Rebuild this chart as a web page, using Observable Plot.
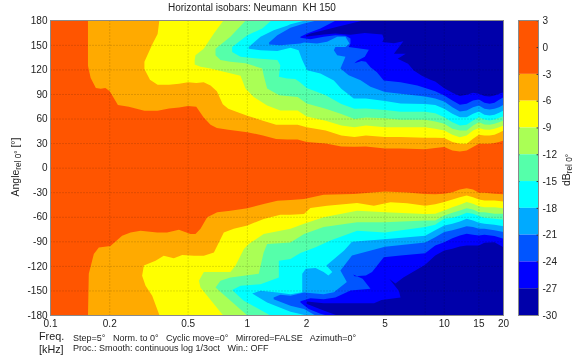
<!DOCTYPE html>
<html>
<head>
<meta charset="utf-8">
<script src="https://cdn.jsdelivr.net/npm/d3@7"></script>
<script src="https://cdn.jsdelivr.net/npm/@observablehq/plot@0.6"></script>
<style>
html,body{margin:0;padding:0;background:#fff;}
#page{position:relative;width:580px;height:357px;overflow:hidden;font-family:"Liberation Sans",sans-serif;color:#222;filter:blur(0.3px);}
#page svg{position:absolute;left:0;top:0;background:transparent;}
.t{position:absolute;white-space:pre;line-height:1;}
.t sub{font-size:.78em;vertical-align:-0.28em;line-height:0;}
</style>
</head>
<body>
<div id="page"></div>
<script>
const levels = [3,0,-3,-6,-9,-12,-15,-18,-21,-24,-27,-30];
const bandTops = [3,-3,-6,-9,-12,-15,-18,-21,-24,-27];
const bandColors = ["#FF5500","#FFAA00","#FFFF00","#AAFF55","#55FFAA","#00FFFF","#00AAFF","#0055FF","#0000FF","#0000AA"];
const freqTicks = [0.1,0.2,0.5,1,2,5,8,10,15,20];
const angleTicks = [-180,-150,-120,-90,-60,-30,0,30,60,90,120,150,180];

const top3 = [[.155,180],[.155,125],[.16,110],[.17,98],[.18,97],[.19,98],[.2,94],[.22,77],[.25,75],[.28,72],[.3,70],[.35,70],[.4,73],[.45,74],[.5,76],[.55,75],[.6,62],[.65,53],[.7,49],[.8,47],[1,44],[1.2,40],[1.4,35.5],[1.6,35],[1.8,35],[2,32],[2.5,30],[3,26.5],[3.5,26],[4,26.5],[5,24],[6,24],[8,23],[9,24.5],[10,25.7],[11,21.6],[12,20.4],[13,21.6],[14,25.7],[15,29.8],[16,29.8],[17,29.8],[18,30.6],[19,31.8],[20,33.8],[20,180]];
const top6 = [[.357,180],[.35,164],[.33,152],[.3,130],[.3,121],[.32,108],[.35,102],[.4,102],[.45,103],[.5,105],[.55,104],[.6,105],[.65,101],[.7,94],[.75,78],[.8,72.5],[.9,68],[1,64],[1.2,58],[1.4,53],[1.6,53],[1.8,53],[2,50],[2.5,46],[3,40],[3.5,38],[4,40],[5,38],[6,38],[8,37],[9,37],[10,36.7],[11,31.8],[12,29.8],[13,29.8],[14,35.9],[15,40.8],[16,40],[17,40],[18,40.8],[19,43.2],[20,46],[20,180]];
const top9 = [[.754,180],[.676,164.5],[.6,146],[.545,138],[.54,132],[.54,126.6],[.578,123.8],[.65,121.8],[.76,117.7],[.923,112.8],[.978,97.3],[1.078,86.8],[1.26,76.6],[1.47,70.5],[1.656,70.4],[1.8,70.5],[2,63],[2.5,58],[3,52],[3.5,50],[4,52],[5,50],[6,50],[8,50],[9,48],[10,46],[11,40.8],[12,37.9],[13,40],[14,46],[15,48.9],[16,47.3],[17,46.9],[18,48],[19,50],[20,52.2],[20,180]];
const top12 = [[.978,180],[.82,160.4],[.689,146],[.689,138],[.73,132],[.82,130],[.978,128],[1.19,121.8],[1.21,113.6],[1.26,97.3],[1.45,89],[1.8,87],[2,79],[2.5,72.5],[3,66],[3.5,60],[4,62],[5,61],[6,59],[8,59],[9,57],[10,54.2],[11,48],[12,46],[13,46],[14,52.2],[15,56.2],[16,53.4],[17,53],[18,54.2],[19,56.2],[20,58.3],[20,180]];
const top15 = [[1.32,180],[1.19,170.6],[1,162.4],[.837,148],[.837,142],[.923,136],[1.122,134],[1.42,132],[1.47,125.8],[1.445,111.6],[1.59,109.5],[1.75,109],[1.85,105],[2,98],[2.5,89],[3,78.5],[3.5,72.5],[4,73],[5,71],[6,69],[8,69],[9,67],[10,62.3],[11,56.2],[12,52.2],[13,53],[14,58.3],[15,62.3],[16,59.5],[17,58.3],[18,59.5],[19,61.5],[20,63.5],[20,180]];
const top18 = [[1.94,180],[1.656,175.9],[1.59,174],[1.36,168.6],[1.166,160.4],[1.016,148],[1.016,146],[1.166,144],[1.42,143],[1.656,147],[1.82,144],[1.9,132],[2.01,119.7],[2.35,115.6],[2.75,107],[3,97],[3.15,93],[3.47,85],[4,85],[5,82],[6,79],[8,78.5],[9,77],[10,72.5],[11,66.4],[12,62.3],[13,62.3],[14,66.4],[15,69.2],[16,65.2],[17,64.4],[18,65.2],[19,67.6],[20,70.5],[20,180]];
const top21 = [[2.22,180],[1.94,176.7],[1.656,171.5],[1.42,162.4],[1.29,153.5],[1.29,151],[1.47,150.2],[1.86,152.3],[1.94,153.5],[2.26,152.3],[2.54,154.3],[2.86,160.4],[3.15,160.4],[3.3,152.3],[3.15,148],[2.8,148],[2.75,144],[2.86,138],[3.15,136],[2.97,121.8],[3.27,113.6],[3.76,107.5],[4.22,99.4],[5,93],[6,91],[8,87.5],[9,85],[10,81.5],[11,74.5],[12,69.2],[13,70.5],[14,74.5],[15,76.6],[16,72.5],[17,71.7],[18,72.5],[19,74.5],[20,77.4],[20,180]];
const top24 = [[2.8,180],[2.35,170.6],[2.01,164.5],[1.86,160.4],[1.86,159.2],[2.09,157.6],[2.44,160.4],[2.8,162.4],[3.15,161.6],[3.34,158.4],[3.34,152.3],[3.27,148],[4.14,144.6],[3.95,136],[3.6,131],[3.5,128],[3.8,131],[4,130],[4.22,123.4],[4.55,117.3],[4.93,107],[6,105],[7.3,101],[8,98],[9,94],[10,88.8],[11,82.7],[12,77.4],[13,78.6],[14,82.7],[15,83.9],[16,79.8],[17,78.6],[18,79.8],[19,83.5],[20,86.7],[20,180]];
const top27 = [[3.83,180],[2.97,173.8],[2.44,168.6],[2.09,164.5],[1.98,161.6],[2.01,160.8],[2.44,163.3],[2.8,164.5],[3.34,163],[3.95,165],[4.85,163.3],[4.93,158],[4.85,154],[5.55,152.7],[6.2,155],[5.8,146],[5.55,139.7],[6.37,139.7],[5.8,133.6],[6.55,127.5],[7,119.4],[7.7,113],[8.5,108],[9,106],[10,97.7],[11,92],[12,88],[13,89.6],[14,92],[15,90.8],[16,88],[17,87.5],[18,88.8],[19,90.8],[20,92.8],[20,180]];

const bot3 = [[.155,-180],[.1565,-129],[.166,-105],[.176,-97],[.2017,-95],[.231,-82.6],[.255,-78.5],[.2866,-76.5],[.3485,-78.5],[.391,-78.5],[.449,-75.2],[.514,-80.5],[.545,-80.5],[.578,-74],[.625,-60],[.703,-54],[.82,-52],[1,-49],[1.21,-43.9],[1.42,-39.8],[1.656,-39],[1.94,-37.7],[2.44,-32.4],[3.47,-31.6],[5,-28.4],[6.48,-29.6],[8,-31.6],[9,-32],[10,-31.4],[11,-29.3],[12,-26],[13,-24.5],[14,-26],[15,-30.2],[16,-30.2],[18,-31.4],[20,-31.8],[20,-180]];
const bot6 = [[.358,-180],[.3285,-156],[.304,-143.7],[.292,-131.5],[.298,-119],[.3415,-113],[.376,-107],[.423,-110],[.4666,-106],[.535,-107],[.601,-107],[.676,-103],[.759,-78.5],[.853,-74],[1,-70],[1.21,-62],[1.47,-57],[1.656,-57],[1.94,-56],[2.09,-48.75],[2.54,-45.9],[3.61,-42.6],[4.39,-45.9],[5.33,-41.8],[6.48,-43],[8,-45.9],[9,-44],[10,-41.5],[11,-38.3],[12,-35.4],[13,-33.4],[14,-35.4],[15,-38.3],[16,-39.5],[18,-39.5],[20,-40.7],[20,-180]];
const bot9 = [[.754,-180],[.676,-166],[.578,-145.8],[.567,-137.6],[.601,-127],[.689,-127],[.82,-127],[.871,-119],[.959,-99],[1.016,-92.8],[1.21,-80.5],[1.656,-74],[1.94,-68],[2.44,-60],[3.61,-52],[5,-54],[8,-56],[9,-55.8],[10,-51.7],[11,-47.7],[12,-44.8],[13,-41.5],[14,-43.6],[15,-46.4],[16,-47.7],[18,-47.7],[20,-48.9],[20,-180]];
const bot12 = [[1,-180],[.689,-145.8],[.73,-137.6],[.82,-133.5],[.959,-131.5],[1.143,-129],[1.21,-103],[1.26,-92.8],[1.656,-90.7],[1.94,-80.5],[2.44,-72],[3.61,-66],[5,-66],[8,-64],[9,-64],[10,-57.8],[11,-54.6],[12,-51.7],[13,-48.9],[14,-50.5],[15,-53.8],[16,-53.8],[18,-55.8],[20,-55.8],[20,-180]];
const bot15 = [[1.31,-180],[.959,-162],[.837,-149],[.923,-143.7],[1.166,-141.7],[1.445,-133.5],[1.445,-113],[1.656,-111],[1.86,-103.5],[2.22,-96.5],[2.64,-88.4],[3.61,-76.5],[5,-78.5],[8,-72],[9,-69],[10,-61.9],[11,-60.7],[12,-57.8],[13,-54.6],[14,-55.8],[15,-58.6],[16,-60.7],[18,-61.9],[20,-63.1],[20,-180]];
const bot18 = [[2,-180],[1.656,-175.5],[1.26,-164],[1.058,-153],[1.166,-149.8],[1.42,-152],[1.656,-154],[1.9,-151.5],[1.9,-129],[1.98,-123],[2.22,-122],[2.44,-127],[2.58,-131],[2.7,-127],[2.52,-119],[3.1,-100.6],[3.4,-90],[5.13,-86.7],[8,-82.6],[9,-76],[10,-70],[11,-68],[12,-65.2],[13,-61.9],[14,-64],[15,-66.8],[16,-68],[18,-69.2],[20,-70.9],[20,-180]];
const bot21 = [[2.22,-180],[1.94,-172],[1.656,-168],[1.36,-160],[1.36,-158],[1.47,-154.7],[1.656,-156],[1.94,-152],[2.44,-154],[2.75,-151.5],[3.2,-139],[2.97,-125],[3.4,-106.7],[5,-96],[8,-90.7],[9,-84.3],[10,-78],[11,-76],[12,-73.3],[13,-70.9],[14,-72],[15,-74],[16,-74],[18,-76],[20,-78],[20,-180]];
const bot24 = [[2.54,-180],[2.35,-178],[2.05,-172],[1.86,-164],[1.86,-162.5],[2.09,-158.8],[2.44,-160],[2.8,-158],[3.34,-149.5],[4.22,-147.4],[3.85,-135],[3.45,-130],[3.5,-132],[4,-131],[4.3,-127],[4.93,-108.8],[6,-106.7],[8,-104],[9,-94.5],[10,-90.4],[11,-85.5],[12,-82.2],[13,-80.2],[14,-81.4],[15,-82.2],[16,-81.4],[18,-83],[20,-86.3],[20,-180]];
const bot27 = [[2.86,-180],[2.44,-174],[2.01,-166],[2.01,-163],[2.44,-165],[3.34,-165],[4.4,-165],[4.8,-161],[5.13,-160],[6,-158],[5.88,-149.8],[5.25,-135],[5.65,-141],[6.2,-133.5],[8,-118],[9,-106.7],[10,-100.6],[11,-98.5],[12,-95.7],[13,-94.5],[14,-94.5],[15,-94.5],[16,-91.2],[18,-90.4],[20,-96.5],[20,-180]];

const topRegions = [top3,top6,top9,top12,top15,top18,top21,top24,top27];
const botRegions = [bot3,bot6,bot9,bot12,bot15,bot18,bot21,bot24,bot27];

const region = (pts, i) => Plot.line(pts, {x: d => d[0], y: d => d[1], fill: bandColors[i + 1], stroke: "none"});
const gridStyle = {stroke: "#000", strokeOpacity: 0.13, strokeWidth: 1, strokeDasharray: "2,1"};

const main = Plot.plot({
  width: 580, height: 357,
  marginLeft: 50, marginRight: 77, marginTop: 20, marginBottom: 42,
  style: {fontFamily: '"Liberation Sans",sans-serif', fontSize: "10px", color: "#222", background: "transparent"},
  x: {type: "log", domain: [0.1, 20], range: [50, 503]},
  y: {domain: [-180, 180], range: [315, 20.3]},
  marks: [
    Plot.frame({fill: bandColors[0], stroke: "none"}),
    ...topRegions.map(region),
    ...botRegions.map(region),
    Plot.ruleX(freqTicks.slice(1, -1), gridStyle),
    Plot.ruleY(angleTicks.slice(1, -1), gridStyle),
    Plot.frame({stroke: "#8a8a8a", strokeWidth: 1}),
    Plot.axisX({ticks: freqTicks, tickFormat: d => String(d), tickSize: 0, tickPadding: 4, label: null}),
    Plot.axisY({ticks: angleTicks, tickFormat: d => String(d), tickSize: 0, tickPadding: 3, label: null})
  ]
});

const bands = bandTops.map((t, i) => ({y2: t, y1: i + 1 < bandTops.length ? bandTops[i + 1] : -30, c: bandColors[i]}));
const bar = Plot.plot({
  width: 580, height: 357,
  marginLeft: 518, marginRight: 42, marginTop: 20, marginBottom: 42,
  style: {fontFamily: '"Liberation Sans",sans-serif', fontSize: "10px", color: "#222", background: "transparent"},
  x: {domain: [0, 1], axis: null},
  y: {domain: [-30, 3], range: [315, 20.3]},
  marks: [
    Plot.rectY(bands, {x1: 0, x2: 1, y1: "y1", y2: "y2", fill: d => d.c}),
    Plot.ruleY(levels, {x1: 0, x2: 0.07, stroke: "#333", strokeWidth: 1}),
    Plot.ruleY(levels, {x1: 0.93, x2: 1, stroke: "#333", strokeWidth: 1}),
    Plot.frame({stroke: "#8a8a8a", strokeWidth: 1}),
    Plot.axisY({anchor: "right", ticks: levels, tickFormat: d => String(d), tickSize: 0, tickPadding: 4, label: null})
  ]
});

const page = document.getElementById("page");
page.append(main, bar);

const addText = (html, left, top, size, extra = "") => {
  const el = document.createElement("div");
  el.className = "t";
  el.innerHTML = html;
  el.style.cssText = `left:${left}px;top:${top}px;font-size:${size}px;${extra}`;
  page.append(el);
};
addText("Horizontal isobars: Neumann  KH 150", 168, 2.5, 10);
addText("Freq.", 39, 331, 10.8);
addText("[kHz]", 39, 343.5, 10.8);
addText("Step=5°   Norm. to 0°   Cyclic move=0°   Mirrored=FALSE   Azimuth=0°", 73, 333.5, 9);
addText("Proc.: Smooth: continuous log 1/3oct   Win.: OFF", 73, 343.5, 9);
addText("Angle<sub>rel 0°</sub> [°]", 15, 167, 10.5, "transform:translate(-50%,-50%) rotate(-90deg);");
addText("dB<sub>rel 0°</sub>", 566, 170, 10.5, "transform:translate(-50%,-50%) rotate(-90deg);");
</script>
</body>
</html>
